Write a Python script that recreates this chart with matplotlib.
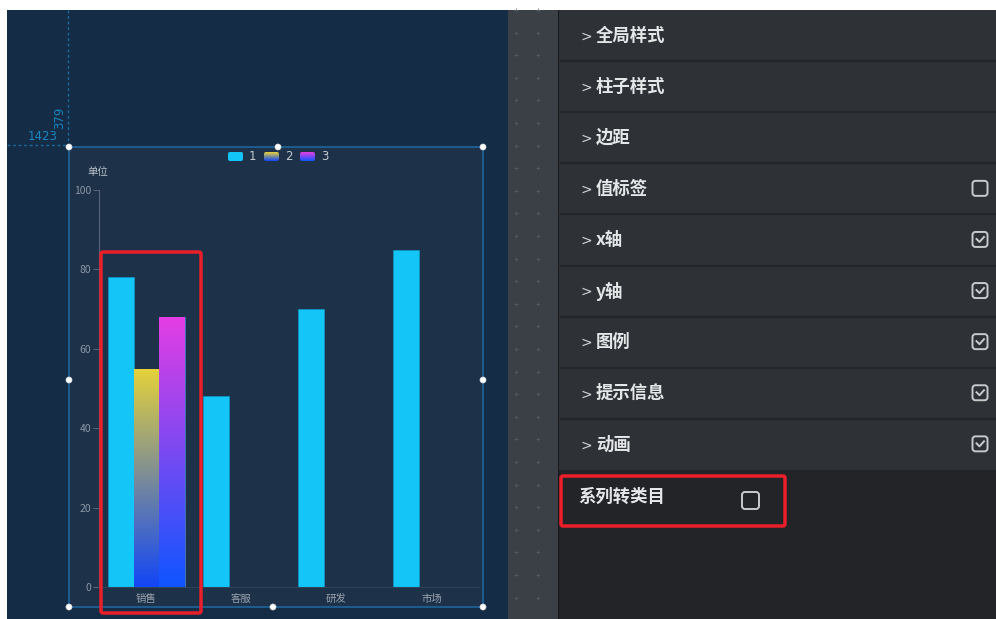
import numpy as np
import matplotlib
matplotlib.use("Agg")
import matplotlib.pyplot as plt
from matplotlib.patches import Rectangle, FancyBboxPatch, Circle
from matplotlib.colors import LinearSegmentedColormap

plt.rcParams['font.family'] = ['Noto Sans CJK SC', 'DejaVu Sans']

# chart data
categories = ['销售', '客服', '研发', '市场']
series_names = ['1', '2', '3']
series_1 = [78, 48, 70, 85]
series_2 = [55, np.nan, np.nan, np.nan]
series_3 = [68, np.nan, np.nan, np.nan]
y_ticks = [0, 20, 40, 60, 80, 100]
unit_label = '单位'

# side panel content
panel_items = ['全局样式', '柱子样式', '边距', '值标签', 'x轴', 'y轴', '图例', '提示信息', '动画']
panel_checks = [None, None, None, False, True, True, True, True, True]
extra_item = '系列转类目'

W, H = 996, 619
fig = plt.figure(figsize=(W / 100, H / 100), dpi=100, facecolor='white')

# background / UI layer in pixel coordinates
bg = fig.add_axes([0, 0, 1, 1], zorder=0)
bg.set_xlim(0, W)
bg.set_ylim(H, 0)
bg.axis('off')

bg.add_patch(Rectangle((7, 10), 501, 609, color='#142c45', lw=0))
bg.add_patch(Rectangle((508, 10), 50, 609, color='#3b4047', lw=0))
px, py = np.meshgrid([516, 538], np.arange(10, 619, 22.6))
bg.scatter(px.ravel(), py.ravel(), marker='+', s=6, color='#575d65', lw=0.5)
bg.add_patch(Rectangle((557.5, 10), 1.5, 609, color='#16181b', lw=0))
bg.add_patch(Rectangle((559, 10), 437, 460, color='#2e3135', lw=0))
bg.add_patch(Rectangle((559, 470), 437, 149, color='#232428', lw=0))

row_h = 51.1
for i, (name, chk) in enumerate(zip(panel_items, panel_checks)):
    yc = 10 + row_h * (i + 0.5)
    if i > 0:
        bg.plot([559, 996], [10 + row_h * i] * 2, color='#24262a', lw=1.5)
    bg.text(581, yc + 1, '>', color='#d0d2d4', fontsize=10, ha='left', va='center',
            family='DejaVu Sans')
    bg.text(596, yc, name, color='#e4e6e8', fontsize=12.5, fontweight='bold',
            ha='left', va='center')
    if chk is not None:
        bg.add_patch(FancyBboxPatch((972.5, yc - 8), 15, 15,
                                    boxstyle='round,pad=0,rounding_size=3',
                                    fc='none', ec='#c8cacc', lw=1.4))
        if chk:
            bg.plot([976.5, 979.5, 984], [yc - 1, yc + 2, yc - 3],
                    color='#c8cacc', lw=1.4)

bg.text(578, 497, extra_item, color='#e4e6e8', fontsize=12.5, fontweight='bold',
        ha='left', va='center')
bg.add_patch(FancyBboxPatch((742, 492), 17, 17, boxstyle='round,pad=0,rounding_size=3',
                            fc='none', ec='#c8cacc', lw=1.4))

# chart widget frame and guides
bg.add_patch(Rectangle((69, 147), 414, 460, fc='#1d3149', ec='#1d5b8c', lw=1.5))
bg.plot([68, 68], [10, 147], color='#1d6a9c', lw=1, ls=(0, (2, 2)))
bg.plot([7, 69], [145, 145], color='#1d6a9c', lw=1, ls=(0, (2, 2)))
bg.text(43, 137, '1423', color='#1b86c2', fontsize=8.5, ha='center', va='center',
        family='DejaVu Sans')
bg.text(60, 118, '379', color='#1b86c2', fontsize=8.5, ha='center', va='center',
        rotation=90, family='DejaVu Sans')

# legend
colors_top = ['#13c6f7', '#e4d23a', '#e43ee4']
colors_bot = ['#13c6f7', '#1246f6', '#0f55ff']
leg_x = [228, 264, 300]
for name, x0, ct, cb in zip(series_names, leg_x, colors_top, colors_bot):
    cm = LinearSegmentedColormap.from_list('g', [ct, cb])
    grad = np.linspace(0, 1, 32).reshape(-1, 1)
    im = bg.imshow(grad, cmap=cm, extent=(x0, x0 + 15, 161, 152), aspect='auto',
                   origin='upper', zorder=3)
    clip = FancyBboxPatch((x0, 152), 15, 9, boxstyle='round,pad=0,rounding_size=2',
                          transform=bg.transData, fc='none', ec='none')
    bg.add_patch(clip)
    im.set_clip_path(clip)
    bg.text(x0 + 21, 156, name, color='#c4c9ce', fontsize=8.5, ha='left', va='center',
            family='DejaVu Sans')
bg.text(98, 172, unit_label, color='#b9c0c8', fontsize=7.5, ha='center', va='center')

# chart axes
ax = fig.add_axes([99 / W, 32 / H, 380 / W, 397 / H], zorder=2)
ax.patch.set_alpha(0)
x = np.arange(len(categories))
bw = 0.27
offsets = [-bw, 0, bw]
for vals, off, ct, cb in zip([series_1, series_2, series_3], offsets, colors_top, colors_bot):
    vals = np.asarray(vals, dtype=float)
    ok = ~np.isnan(vals)
    bars = ax.bar(x[ok] + off, vals[ok], width=bw, color=ct, edgecolor='#0e9fd0',
                  lw=0.4, zorder=2)
    if ct != cb:
        cm = LinearSegmentedColormap.from_list('g', [ct, cb])
        grad = np.linspace(0, 1, 128).reshape(-1, 1)
        for b in bars:
            bx, by = b.get_x(), b.get_y()
            im = ax.imshow(grad, cmap=cm, aspect='auto', origin='upper', zorder=3,
                           extent=(bx, bx + b.get_width(), by, by + b.get_height()))
            im.set_clip_path(b)

ax.set_xlim(-0.5, len(categories) - 0.5)
ax.set_ylim(0, 100)
ax.set_yticks(y_ticks)
ax.set_xticks(x)
ax.set_xticklabels(categories)
for s in ['top', 'right']:
    ax.spines[s].set_visible(False)
ax.spines['left'].set_color('#56637a')
ax.spines['left'].set_linewidth(0.8)
ax.spines['bottom'].set_color('#2f445b')
ax.spines['bottom'].set_linewidth(0.8)
ax.tick_params(axis='y', colors='#56637a', labelcolor='#8c97a5', labelsize=7.5,
               length=4, width=0.8, pad=1.5)
ax.tick_params(axis='x', length=0, labelcolor='#9aa3ad', labelsize=7.5, pad=5)

# selection overlay
top = fig.add_axes([0, 0, 1, 1], zorder=5)
top.set_xlim(0, W)
top.set_ylim(H, 0)
top.axis('off')
top.patch.set_alpha(0)
for hx, hy in [(69, 147), (278, 147), (483, 147), (69, 380), (483, 380),
               (69, 607), (273, 607), (483, 607)]:
    top.add_patch(Circle((hx, hy), 3, fc='white', ec='#dddddd', lw=0.5))
top.add_patch(FancyBboxPatch((101, 252), 100, 361, boxstyle='round,pad=0,rounding_size=2',
                             fc='none', ec='#ea1f29', lw=2.5))
top.add_patch(FancyBboxPatch((561, 476), 224, 50, boxstyle='round,pad=0,rounding_size=2',
                             fc='none', ec='#ea1f29', lw=2.5))

fig.savefig('out.png', dpi=100, facecolor=fig.get_facecolor())
